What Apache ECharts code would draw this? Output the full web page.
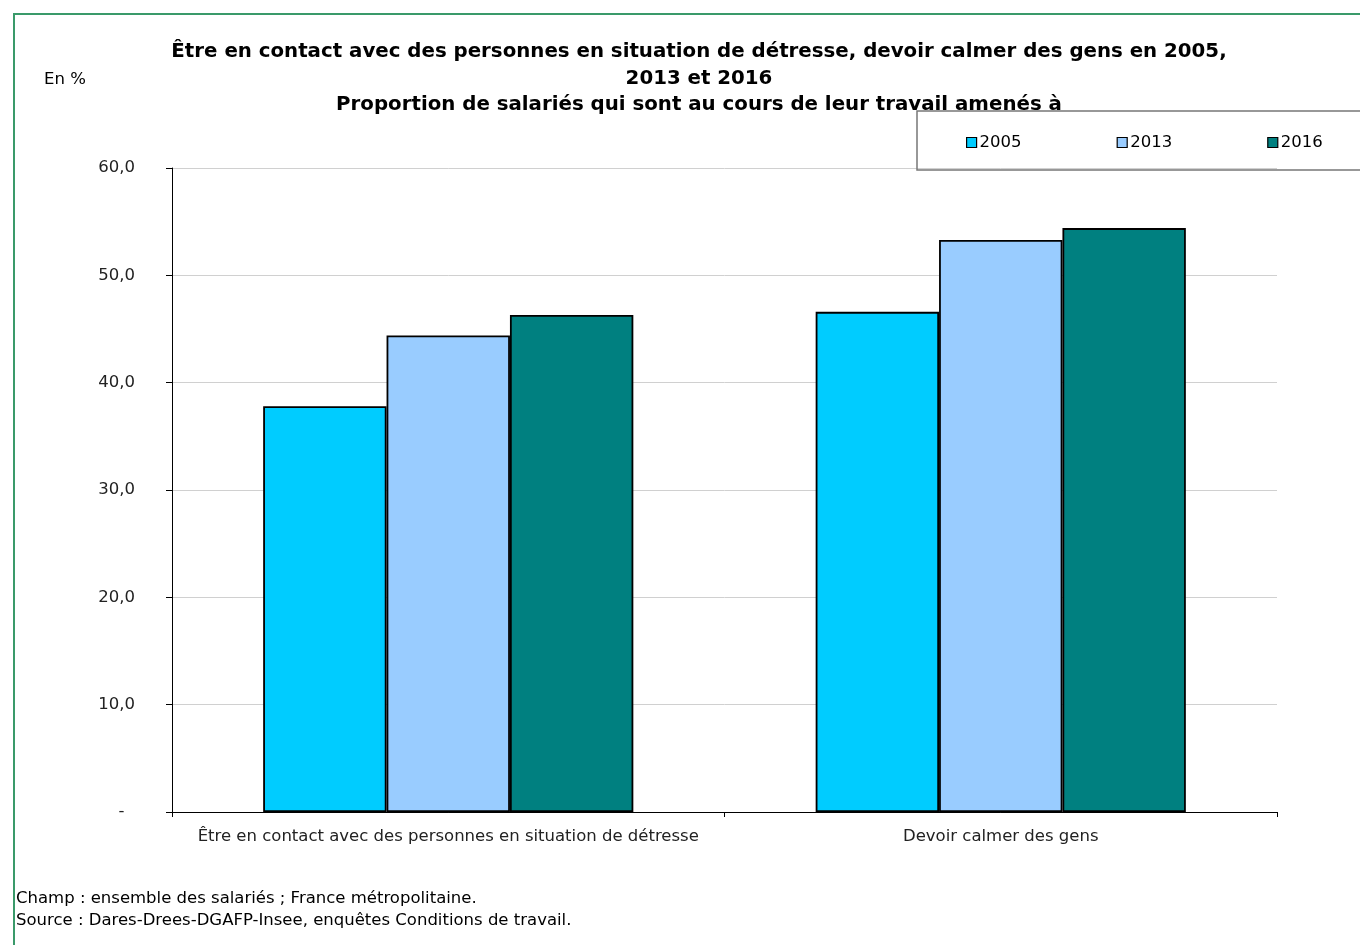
<!DOCTYPE html>
<html><head><meta charset="utf-8">
<script src="https://cdn.jsdelivr.net/npm/echarts@6/dist/echarts.min.js"></script>
<style>html,body{margin:0;padding:0;background:#fff}#c{width:1360px;height:945px}</style>
</head><body><div id="c"></div>
<script>
const categories = ["Être en contact avec des personnes en situation de détresse", "Devoir calmer des gens"];
const seriesNames = ["2005", "2013", "2016"];
const values2005 = [37.8, 46.6];
const values2013 = [44.4, 53.3];
const values2016 = [46.3, 54.4];
const colors = ["#00CCFF", "#99CCFF", "#008080"];
const yTicks = [0, 10, 20, 30, 40, 50, 60];

const font = "DejaVu Sans, Verdana, sans-serif";
const chart = echarts.init(document.getElementById('c'));
const allVals = [values2005, values2013, values2016];
chart.setOption({
  animation: false,
  backgroundColor: '#fff',
  title: {
    text: "Être en contact avec des personnes en situation de détresse, devoir calmer des gens en 2005,\n2013 et 2016\nProportion de salariés qui sont au cours de leur travail amenés à",
    left: 694, textAlign: 'center', top: 34,
    textStyle: { fontFamily: font, fontSize: 19.8, fontWeight: 'bold', color: '#000', lineHeight: 26.5 }
  },
  graphic: [
    { type: 'rect', shape: { x: 14, y: 14, width: 1400, height: 1000 }, style: { fill: 'none', stroke: '#3a9a6a', lineWidth: 2 }, z: 0 },
    { type: 'rect', shape: { x: 917, y: 111, width: 500, height: 59 }, style: { fill: 'none', stroke: '#777', lineWidth: 1.5 }, z: 10 },
    { type: 'text', left: 44, top: 71, style: { text: 'En %', font: '16.5px ' + font, fill: '#000' } },
    { type: 'text', left: 16, top: 890, style: { text: 'Champ : ensemble des salariés ; France métropolitaine.', font: '16.5px ' + font, fill: '#000' } },
    { type: 'text', left: 16, top: 912, style: { text: 'Source : Dares-Drees-DGAFP-Insee, enquêtes Conditions de travail.', font: '16.5px ' + font, fill: '#000' } }
  ],
  legend: {
    data: seriesNames, left: 961, top: 129, orient: 'horizontal', itemGap: 95, z: 20,
    itemWidth: 10, itemHeight: 10,
    icon: 'rect',
    itemStyle: { borderColor: '#000', borderWidth: 1.2 },
    textStyle: { fontFamily: font, fontSize: 16.5, color: '#000', padding: [0,0,0,-2] }
  },
  grid: { left: 172, right: 83, top: 168, bottom: 133, containLabel: false },
  xAxis: {
    type: 'category', data: categories,
    axisLine: { lineStyle: { color: '#000', width: 1 } },
    axisTick: { show: true, interval: 0, length: 5, lineStyle: { color: '#000' } },
    axisLabel: { interval: 0, fontFamily: font, fontSize: 16.5, color: '#222', margin: 16 }
  },
  yAxis: {
    type: 'value', min: 0, max: 60, interval: 10,
    axisLine: { show: true, lineStyle: { color: '#000', width: 1 } },
    axisTick: { show: true, length: 6, lineStyle: { color: '#000' } },
    splitLine: { lineStyle: { color: '#d0d0d0', width: 1 } },
    axisLabel: {
      fontFamily: font, fontSize: 16.5, color: '#222', margin: 37,
      formatter: v => v === 0 ? '-  ' : v.toFixed(1).replace('.', ',')
    }
  },
  series: seriesNames.map((n, i) => ({
    name: n, type: 'bar', data: allVals[i],
    barGap: '0%', barCategoryGap: '33%',
    itemStyle: { color: colors[i], borderColor: '#000', borderWidth: 1.8 }
  }))
});
</script></body></html>
